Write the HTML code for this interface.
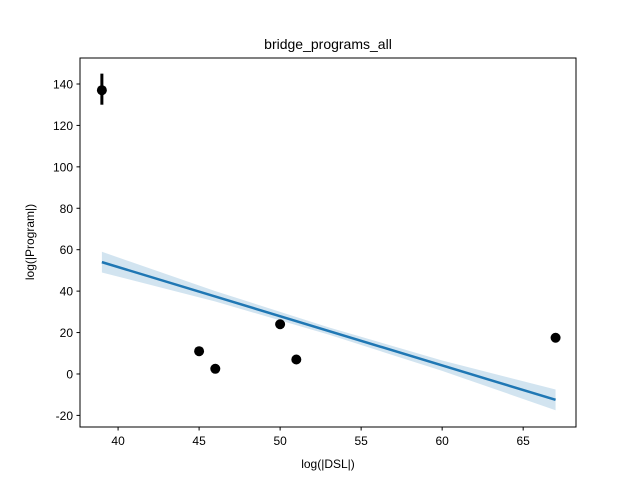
<!DOCTYPE html>
<html><head><meta charset="utf-8"><style>body{margin:0;background:#fff}svg{display:block;font-family:"Liberation Sans","DejaVu Sans",sans-serif}</style></head>
<body>
<svg id="chart" width="640" height="480">
<rect width="640" height="480" fill="#fff"/>
<text x="328" y="49" font-size="14" text-anchor="middle">bridge_programs_all</text>
<g id="band"></g><g id="line"></g><g id="pts"></g>
<rect x="80" y="58" width="496" height="369" fill="none" stroke="#000" stroke-width="1"/>
<g id="xt"></g><g id="yt"></g>
<text x="328" y="468" font-size="12" text-anchor="middle">log(|DSL|)</text>
<text transform="translate(34,242) rotate(-90)" font-size="12" text-anchor="middle">log(|Program|)</text>
</svg>
<script>
const xs=[39,45,46,50,51,67];
const ys=[137,11,2.5,24,7,17.5];
const errLo=[130,11,2.5,24,7,17.5];
const errHi=[145,11,2.5,24,7,17.5];
const fitX=[39,67];
const fitY=[54,-12.5];
const bandX=[39,46,53,60,67];
const bandLo=[49,35,19,1.5,-17.5];
const bandHi=[59,40,22.5,6.5,-7.5];
const xTicks=[40,45,50,55,60,65];
const yTicks=[-20,0,20,40,60,80,100,120,140];
const NS="http://www.w3.org/2000/svg";
const X=v=>80+(v-37.65)/(68.26-37.65)*496;
const Y=v=>58+(152.55-v)/(152.55+25.6)*369;
function mk(t,a,p){const e=document.createElementNS(NS,t);for(const k in a)e.setAttribute(k,a[k]);p.appendChild(e);return e;}
let d=bandX.map((x,i)=>(i?'L':'M')+X(x)+','+Y(bandHi[i])).join('')+bandX.slice().reverse().map((x,j)=>{const i=bandX.length-1-j;return 'L'+X(x)+','+Y(bandLo[i]);}).join('')+'Z';
const b=mk('path',{d:d,fill:'#1f77b4','fill-opacity':0.2},document.getElementById('band'));


const l=mk('line',{x1:X(fitX[0]),y1:Y(fitY[0]),x2:X(fitX[1]),y2:Y(fitY[1]),stroke:'#1f77b4','stroke-width':2.5},document.getElementById('line'));


const P=document.getElementById('pts');
xs.forEach((x,i)=>{
 if(errHi[i]>errLo[i]){const e=mk('line',{x1:X(x),x2:X(x),y1:Y(errLo[i]),y2:Y(errHi[i]),stroke:'#000','stroke-width':3},P);
 
 }
 const c=mk('circle',{cx:X(x),cy:Y(ys[i]),r:5,fill:'#000'},P);
 
 
});
const XT=document.getElementById('xt');
xTicks.forEach(t=>{mk('line',{x1:X(t),x2:X(t),y1:427,y2:430.5,stroke:'#000'},XT);
 const s=mk('text',{x:X(t),y:445,'font-size':12,'text-anchor':'middle'},XT);s.textContent=t;
 
 });
const YT=document.getElementById('yt');
yTicks.forEach(t=>{mk('line',{x1:76.5,x2:80,y1:Y(t),y2:Y(t),stroke:'#000'},YT);
 const s=mk('text',{x:73,y:Y(t)+4.5,'font-size':12,'text-anchor':'end'},YT);s.textContent=t;
 
 });
</script>
</body></html>
